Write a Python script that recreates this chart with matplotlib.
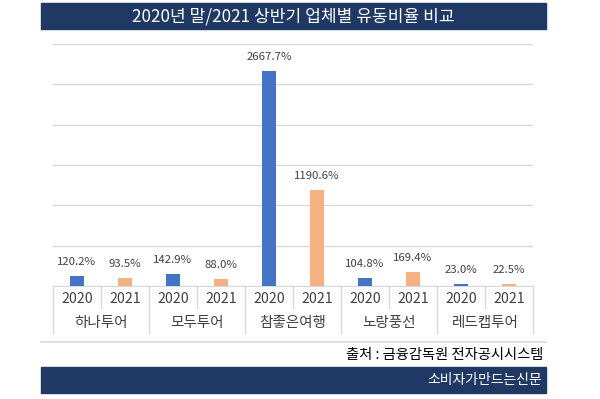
import matplotlib
matplotlib.use("Agg")
import matplotlib.pyplot as plt
import matplotlib.transforms as mtransforms
from matplotlib.patches import Rectangle
from matplotlib.lines import Line2D

plt.rcParams['font.family'] = ['Noto Sans CJK KR', 'DejaVu Sans']

title = "2020년 말/2021 상반기 업체별 유동비율 비교"
companies = ["하나투어", "모두투어", "참좋은여행", "노랑풍선", "레드캡투어"]
years = ["2020", "2021"]
values_2020 = [120.2, 142.9, 2667.7, 104.8, 23.0]
values_2021 = [93.5, 88.0, 1190.6, 169.4, 22.5]
source = "출처 : 금융감독원 전자공시시스템"
footer = "소비자가만드는신문"

W, H = 600, 399
fig = plt.figure(figsize=(6, 3.99), dpi=100)
fig.patch.set_facecolor("white")

def fx(px):
    return px / W

def fy(py):
    return (H - py) / H

navy = "#203864"
blue = "#4472C4"
orange = "#F4B183"
grid_c = "#D9D9D9"
txt_c = "#404040"

# title bar
fig.patches.append(Rectangle((fx(41), fy(29)), fx(546) - fx(41), fy(3) - fy(29),
                             transform=fig.transFigure, color=navy, zorder=0))
fig.text(fx(293.5), fy(16.5), title, color="white", fontsize=12.3,
         ha="center", va="center")

# axes
ax = fig.add_axes([fx(53), fy(286), fx(533) - fx(53), fy(44) - fy(286)])
ax.set_ylim(0, 3000)
ax.set_xlim(-0.5, 2 * len(companies) - 0.5)
ax.set_yticks(range(0, 3001, 500))
ax.yaxis.grid(True, color=grid_c, linewidth=1)
ax.set_axisbelow(True)
for s in ["left", "right", "top"]:
    ax.spines[s].set_visible(False)
ax.spines["bottom"].set_color(grid_c)
ax.tick_params(left=False, labelleft=False, bottom=False, labelbottom=False)

xs = []
vals = []
cols = []
for i in range(len(companies)):
    for j, arr in enumerate([values_2020, values_2021]):
        xs.append(2 * i + j)
        vals.append(arr[i])
        cols.append(blue if j == 0 else orange)

ax.bar(xs, vals, width=0.31, color=cols, zorder=3)
for x, v in zip(xs, vals):
    ax.annotate(f"{v:.1f}%", (x, v), xytext=(0, 10.1), textcoords="offset points",
                ha="center", va="center", fontsize=8.2, color=txt_c)

# category axis (two levels)
tr = mtransforms.blended_transform_factory(ax.transData, fig.transFigure)
n = 2 * len(companies)
for k in range(n + 1):
    x = k - 0.5
    bottom = 333 if k % 2 == 0 else 308
    fig.add_artist(Line2D([x, x], [fy(286), fy(bottom)], transform=tr,
                          color=grid_c, linewidth=1))
for x in xs:
    ax.text(x, fy(299), years[x % 2], transform=tr, ha="center", va="center",
            fontsize=10.2, color=txt_c)
for i, c in enumerate(companies):
    ax.text(2 * i + 0.5, fy(323), c, transform=tr, ha="center", va="center",
            fontsize=10.5, color=txt_c)

# separator line and source
fig.add_artist(Line2D([fx(41), fx(546)], [fy(341.5), fy(341.5)],
                      transform=fig.transFigure, color=grid_c, linewidth=1.2))
fig.text(fx(543), fy(355), source, color="black", fontsize=10.3,
         ha="right", va="center")

# footer bar
fig.patches.append(Rectangle((fx(41), fy(393)), fx(546) - fx(41), fy(367) - fy(393),
                             transform=fig.transFigure, color=navy, zorder=0))
fig.text(fx(542), fy(380), footer, color="white", fontsize=10,
         ha="right", va="center")

fig.savefig("out.png", dpi=100, facecolor="white")
